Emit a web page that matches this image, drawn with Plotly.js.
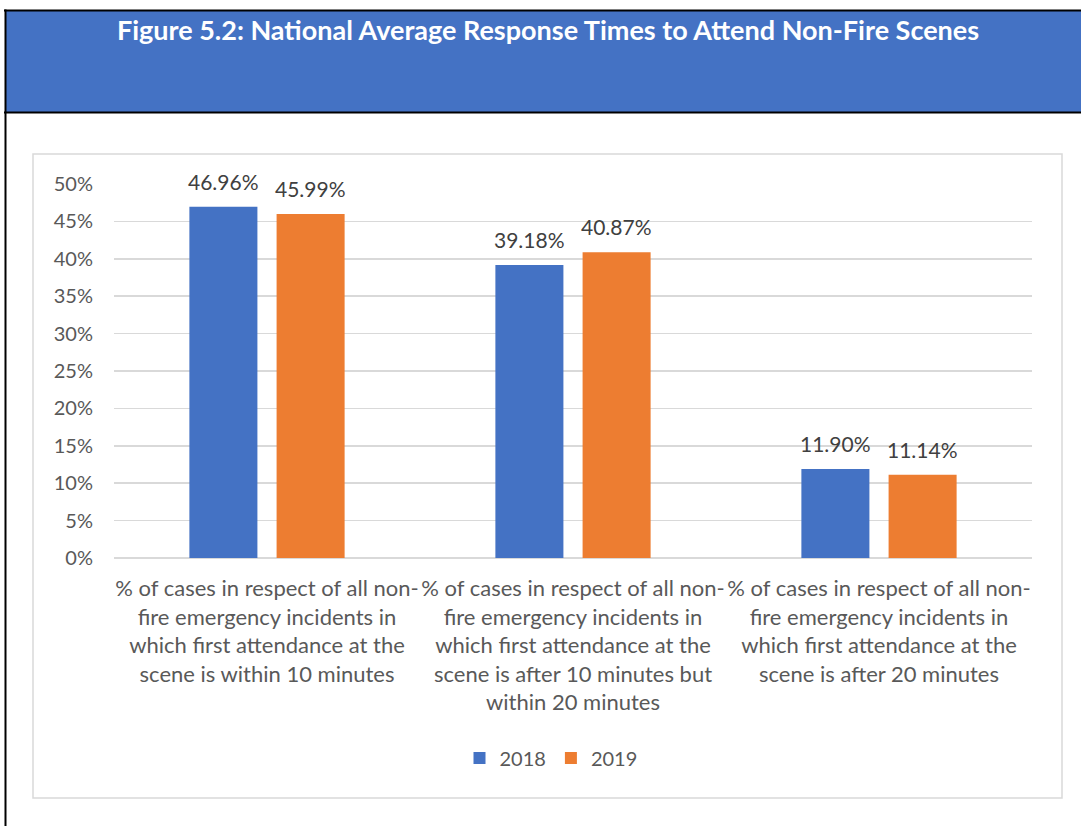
<!DOCTYPE html>
<html>
<head>
<meta charset="utf-8">
<script src="https://cdn.plot.ly/plotly-3.0.1.min.js"></script>
<style>html,body{margin:0;padding:0;background:#fff;}#chart{width:1081px;height:826px;}</style>
</head>
<body>
<div id="chart"></div>
<script>
const categories = [
  "% of cases in respect of all non-fire emergency incidents in which first attendance at the scene is within 10 minutes",
  "% of cases in respect of all non-fire emergency incidents in which first attendance at the scene is after 10 minutes but within 20 minutes",
  "% of cases in respect of all non-fire emergency incidents in which first attendance at the scene is after 20 minutes"
];
const tickLabels = [
  "% of cases in respect of all non-<br>fire emergency incidents in<br>which first attendance at the<br>scene is within 10 minutes",
  "% of cases in respect of all non-<br>fire emergency incidents in<br>which first attendance at the<br>scene is after 10 minutes but<br>within 20 minutes",
  "% of cases in respect of all non-<br>fire emergency incidents in<br>which first attendance at the<br>scene is after 20 minutes"
];
const values2018 = [0.4696, 0.3918, 0.1190];
const values2019 = [0.4599, 0.4087, 0.1114];
const seriesNames = ["2018", "2019"];
const yTickVals = [0, 0.05, 0.10, 0.15, 0.20, 0.25, 0.30, 0.35, 0.40, 0.45, 0.50];

const W = 1081, H = 826;
const L = 114, R = 1032, T = 184, B = 558;
const px = x => (x - L) / (R - L);
const py = y => (B - y) / (B - T);

const FONT = "Lato, 'Open Sans', sans-serif";
const BARGAP = 0.43, GROUPGAP = 0.22;
const slotPx = (R - L) / categories.length * (1 - BARGAP) / 2;

const traces = [
  {type: "bar", name: seriesNames[0], x: categories, y: values2018,
   marker: {color: "#4472C4"}, hoverinfo: "none"},
  {type: "bar", name: seriesNames[1], x: categories, y: values2019,
   marker: {color: "#ED7D31"}, hoverinfo: "none"}
];

const annotations = [];
[values2018, values2019].forEach((vals, i) => {
  vals.forEach((v, j) => {
    annotations.push({
      x: categories[j], y: v, xref: "x", yref: "y",
      text: (v * 100).toFixed(2) + "%", showarrow: false,
      xanchor: "center", yanchor: "bottom",
      xshift: (i === 0 ? -1 : 1) * slotPx / 2, yshift: 11,
      font: {family: FONT, size: 21, color: "#404040"}
    });
  });
});

const layout = {
  width: W, height: H,
  margin: {l: L, r: W - R, t: T, b: H - B, pad: 0},
  paper_bgcolor: "#ffffff", plot_bgcolor: "rgba(0,0,0,0)",
  font: {family: FONT, color: "#595959"},
  title: {text: "<b>Figure 5.2: National Average Response Times to Attend Non-Fire Scenes</b>",
          font: {family: FONT, size: 27, color: "#ffffff"},
          xref: "container", yref: "container", x: 548 / W, y: 1 - 31 / H,
          xanchor: "center", yanchor: "middle"},
  barmode: "group", bargap: BARGAP, bargroupgap: GROUPGAP,
  showlegend: true,
  legend: {orientation: "h", x: px(551), xanchor: "center", y: py(758), yanchor: "middle",
           font: {family: FONT, size: 20, color: "#595959"}, itemwidth: 30, traceorder: "normal"},
  annotations: annotations,
  xaxis: {type: "category", tickvals: categories, ticktext: tickLabels,
          tickfont: {family: FONT, size: 22, color: "#595959"}, showgrid: false,
          showline: false, zeroline: false, ticks: "", tickangle: 0, automargin: false,
          ticklabelstandoff: 15},
  yaxis: {range: [0, 0.5], tickvals: yTickVals, tickformat: ".0%",
          tickfont: {family: FONT, size: 20, color: "#595959"},
          showgrid: true, gridcolor: "#d9d9d9", gridwidth: 1.5, zeroline: true,
          zerolinecolor: "#d9d9d9", zerolinewidth: 1.5, showline: false, ticks: "",
          ticklabelstandoff: 20, automargin: false},
  shapes: [
    {type: "rect", xref: "paper", yref: "paper", layer: "below",
     x0: px(5), x1: px(1090), y0: py(11), y1: py(112),
     fillcolor: "#4472C4", line: {width: 0}},
    {type: "line", xref: "paper", yref: "paper", x0: px(4), x1: px(1090), y0: py(10.5), y1: py(10.5),
     line: {color: "#000000", width: 2}},
    {type: "line", xref: "paper", yref: "paper", x0: px(4), x1: px(1090), y0: py(112.5), y1: py(112.5),
     line: {color: "#000000", width: 2}},
    {type: "line", xref: "paper", yref: "paper", x0: px(5.5), x1: px(5.5), y0: py(9.5), y1: py(830),
     line: {color: "#000000", width: 2}},
    {type: "rect", xref: "paper", yref: "paper", layer: "below",
     x0: px(33), x1: px(1062), y0: py(154), y1: py(798),
     fillcolor: "rgba(0,0,0,0)", line: {color: "#d9d9d9", width: 1.5}}
  ]
};

Plotly.newPlot("chart", traces, layout, {displayModeBar: false, staticPlot: true});
</script>
</body>
</html>
